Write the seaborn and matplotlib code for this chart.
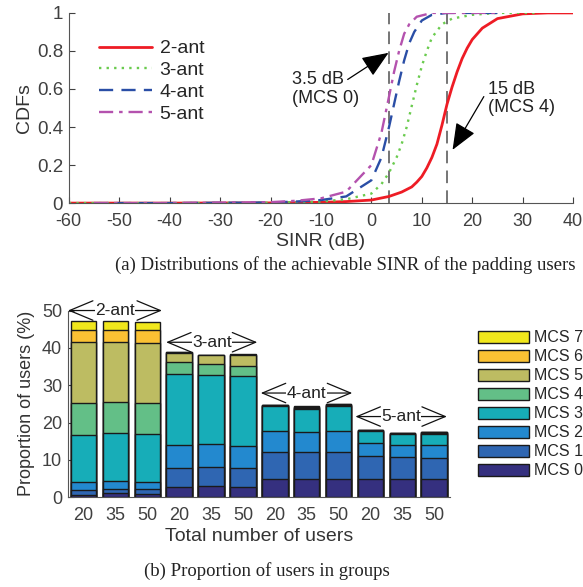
import numpy as np
import pandas as pd
import matplotlib
matplotlib.use("Agg")
import matplotlib.pyplot as plt
import seaborn as sns
from matplotlib.patches import Patch

# ---- data: CDF curves ----
sinr_2ant = [-60, -40, -20, -10, -5, 0, 3.5, 6, 8, 9, 10, 11, 12, 13, 14, 15, 16, 17, 18, 19, 20, 22, 25, 30, 35, 40]
cdf_2ant = [0, 0, 0.001, 0.004, 0.008, 0.016, 0.035, 0.058, 0.085, 0.11, 0.14, 0.185, 0.24, 0.31, 0.41, 0.52, 0.61, 0.69, 0.76, 0.815, 0.86, 0.92, 0.97, 0.995, 1, 1]

sinr_3ant = [-60, -40, -20, -10, -5, 0, 2, 3.5, 5, 6, 7, 8, 9, 10, 11, 12, 14, 16, 20, 25, 33]
cdf_3ant = [0, 0, 0.002, 0.008, 0.02, 0.05, 0.1, 0.16, 0.24, 0.31, 0.40, 0.51, 0.62, 0.72, 0.80, 0.87, 0.94, 0.97, 0.99, 1, 1]

sinr_4ant = [-55, -40, -20, -15, -10, -5, 0, 2, 3.5, 4.5, 5.5, 6.5, 7.5, 8.5, 10, 12, 15, 25]
cdf_4ant = [0, 0, 0.003, 0.008, 0.016, 0.035, 0.12, 0.24, 0.40, 0.52, 0.64, 0.75, 0.84, 0.9, 0.96, 0.99, 1, 1]

sinr_5ant = [-55, -40, -20, -15, -10, -5, 0, 2, 3.5, 4.5, 5.5, 6.5, 7.5, 9, 12, 20, 25]
cdf_5ant = [0, 0, 0.005, 0.012, 0.025, 0.06, 0.2, 0.37, 0.56, 0.69, 0.80, 0.89, 0.94, 0.98, 1, 1, 1]

# ---- data: stacked bars (MCS 0..7 share, %) ----
groups = ["2-ant", "3-ant", "4-ant", "5-ant"]
users = ["20", "35", "50"]
mcs_labels = ["MCS 0", "MCS 1", "MCS 2", "MCS 3", "MCS 4", "MCS 5", "MCS 6", "MCS 7"]
mcs_share = [
    [0.7, 1.35, 1.9, 12.65, 8.6, 16.4, 3.3, 2.4],
    [1.0, 1.3, 2.0, 12.9, 8.3, 16.0, 3.2, 2.4],
    [0.9, 1.3, 1.9, 12.7, 8.4, 16.0, 3.5, 2.3],
    [2.7, 5.0, 6.2, 19.2, 3.0, 2.5, 0.25, 0.1],
    [2.9, 5.1, 6.2, 18.6, 2.9, 2.3, 0.1, 0.1],
    [2.8, 4.9, 6.1, 18.6, 2.8, 2.9, 0.1, 0.1],
    [4.9, 7.1, 5.6, 6.7, 0.25, 0.15, 0.05, 0.05],
    [4.9, 7.1, 5.4, 6.2, 0.3, 0.2, 0.1, 0.1],
    [4.9, 7.3, 5.4, 6.8, 0.3, 0.1, 0.05, 0.05],
    [4.9, 6.0, 3.7, 3.0, 0.2, 0.1, 0.0, 0.0],
    [4.8, 5.9, 3.2, 2.9, 0.2, 0.1, 0.0, 0.0],
    [4.75, 5.75, 3.6, 2.9, 0.2, 0.15, 0.05, 0.0],
]
mcs_colors = ["#35307f", "#2f66b2", "#2389cf", "#17adb8", "#63bf87", "#bdbc62", "#fbc133", "#f1e71c"]

sns.set_style("ticks")
plt.rcParams["font.family"] = ["Liberation Sans", "DejaVu Sans"]
plt.rcParams["axes.unicode_minus"] = False
tick_col = "#404040"
fs = 14

fig = plt.figure(figsize=(5.83, 5.87), dpi=100)

# ================= top: CDFs =================
ax1 = fig.add_axes([0.118, 0.654, 0.865, 0.324])
series = [
    ("2-ant", sinr_2ant, cdf_2ant, "#ee1c25", "-", 2.0),
    ("3-ant", sinr_3ant, cdf_3ant, "#6acb4e", (0, (1, 2.2)), 1.7),
    ("4-ant", sinr_4ant, cdf_4ant, "#2a4ea6", (0, (6, 3.5)), 1.7),
    ("5-ant", sinr_5ant, cdf_5ant, "#b452ae", (0, (6, 2.5, 1.5, 2.5)), 1.7),
]
for name, xs, ys, col, ls, lw in series:
    df = pd.DataFrame({"SINR": xs, "CDF": ys})
    sns.lineplot(data=df, x="SINR", y="CDF", ax=ax1, color=col, linestyle=ls,
                 linewidth=lw, label=name, sort=False)

for xv in [3.5, 15]:
    ax1.axvline(xv, color="#6a6a6a", linestyle=(0, (7, 4)), linewidth=1.3, zorder=0)

ax1.set_xlim(-60, 40)
ax1.set_ylim(0, 1)
ax1.set_xticks(np.arange(-60, 41, 10))
ax1.set_yticks([0, 0.2, 0.4, 0.6, 0.8, 1])
ax1.set_yticklabels(["0", "0.2", "0.4", "0.6", "0.8", "1"])
ax1.set_xlabel("SINR (dB)", fontsize=fs, color="#333333", labelpad=2)
ax1.set_ylabel("CDFs", fontsize=fs, color="#333333", labelpad=3)
ax1.tick_params(direction="in", labelsize=13.5, colors=tick_col, length=4)
ax1.tick_params(axis="x", pad=7, labelsize=13)
ax1.tick_params(axis="y", pad=4)
sns.despine(ax=ax1)
for sp in ax1.spines.values():
    sp.set_color("#555555")
ax1.legend(loc="upper left", bbox_to_anchor=(0.045, 0.9), frameon=False, fontsize=fs,
           handlelength=2.7, labelspacing=0.22, borderaxespad=0, handletextpad=0.4)

arrow_kw = dict(arrowstyle="-|>,head_length=1.1,head_width=0.45", color="k",
                lw=0.9, shrinkA=0, shrinkB=0, mutation_scale=15)
ax1.text(-15.8, 0.60, "3.5 dB\n(MCS 0)", ha="left", va="center", fontsize=13,
         color="#222222", linespacing=1.15)
ax1.annotate("", xy=(3.4, 0.79), xytext=(-4.7, 0.65), arrowprops=arrow_kw)
ax1.text(23.1, 0.55, "15 dB\n(MCS 4)", ha="left", va="center", fontsize=13,
         color="#222222", linespacing=1.15)
ax1.annotate("", xy=(16.1, 0.28), xytext=(22.3, 0.56), arrowprops=arrow_kw)

fig.text(0.593, 0.548, "(a) Distributions of the achievable SINR of the padding users",
         ha="center", va="center", fontsize=13.5, family="Liberation Serif", color="#222222")

# ================= bottom: stacked bars =================
ax2 = fig.add_axes([0.116, 0.153, 0.656, 0.318])
rows = []
for i, shares in enumerate(mcs_share):
    cum = np.cumsum(shares)
    for k, c in enumerate(cum):
        rows.append({"bar": i, "mcs": mcs_labels[k], "cum": c})
bars = pd.DataFrame(rows)
for k in range(len(mcs_labels) - 1, -1, -1):
    sub = bars[bars["mcs"] == mcs_labels[k]]
    sns.barplot(data=sub, x="bar", y="cum", ax=ax2, color=mcs_colors[k], width=0.8,
                edgecolor="#1a1a1a", linewidth=1.0, saturation=1, order=list(range(12)))

ax2.set_xlim(-0.5, 11.5)
ax2.set_ylim(0, 50)
ax2.set_yticks(range(0, 51, 10))
ax2.set_xticklabels(users * len(groups))
ax2.set_xlabel("Total number of users", fontsize=fs, color="#333333", labelpad=3)
ax2.set_ylabel("Proportion of users (%)", fontsize=13, color="#333333", labelpad=5)
ax2.tick_params(direction="in", labelsize=13, colors=tick_col, length=4)
ax2.tick_params(axis="x", pad=7)
ax2.tick_params(axis="y", pad=4)
sns.despine(ax=ax2)
for sp in ax2.spines.values():
    sp.set_color("#555555")

group_span = [(-0.49, 2.46, 50.0), (2.59, 5.45, 41.5), (5.56, 8.43, 27.9), (8.53, 11.4, 21.6)]
for name, (x0, x1, yv) in zip(groups, group_span):
    ax2.annotate("", xy=(x0, yv), xytext=(x1, yv), annotation_clip=False,
                 arrowprops=dict(arrowstyle="<->,head_length=1.2,head_width=0.5",
                                 color="#111111", lw=0.9, shrinkA=0, shrinkB=0,
                                 mutation_scale=14))
    ax2.text((x0 + x1) / 2, yv, name, ha="center", va="center", fontsize=12.5,
             color="#222222", clip_on=False,
             bbox=dict(facecolor="white", edgecolor="none", pad=0.3))

handles = [Patch(facecolor=mcs_colors[k], edgecolor="#1a1a1a", linewidth=1.0, label=mcs_labels[k])
           for k in range(len(mcs_labels) - 1, -1, -1)]
fig.legend(handles=handles, loc="upper left", bbox_to_anchor=(0.82, 0.437), frameon=False,
           fontsize=11.5, handlelength=3.2, handleheight=0.85, labelspacing=0.25,
           handletextpad=0.3, borderaxespad=0, borderpad=0)

fig.text(0.457, 0.028, "(b) Proportion of users in groups", ha="center", va="center",
         fontsize=13.5, family="Liberation Serif", color="#222222")

fig.savefig("out.png", dpi=100)
